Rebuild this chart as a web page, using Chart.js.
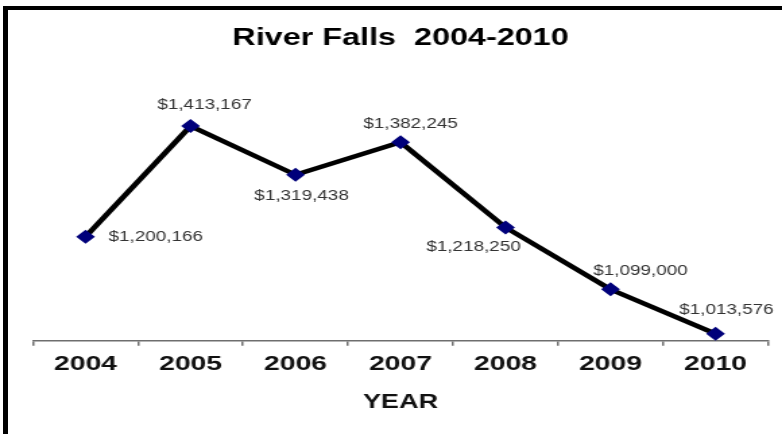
<!DOCTYPE html>
<html>
<head>
<meta charset="utf-8">
<script src="https://cdn.jsdelivr.net/npm/chart.js@4"></script>
<style>
  html, body { margin: 0; padding: 0; background: #fff; overflow: hidden; }
  #wrap { position: absolute; left: 0; top: 0; width: 580px; height: 434px;
          transform: scaleX(1.3483); transform-origin: 0 0; }
  #frame { position: absolute; left: 3px; top: 6px; right: -20px; bottom: -20px;
           border-left: 5px solid #000; border-top: 4px solid #000; }
</style>
</head>
<body>
<div id="wrap"><canvas id="chart" width="580" height="434"></canvas></div>
<div id="frame"></div>
<script>
const years = ['2004', '2005', '2006', '2007', '2008', '2009', '2010'];
const revenue = [1200166, 1413167, 1319438, 1382245, 1218250, 1099000, 1013576];
const chartTitle = 'River Falls  2004-2010';
const xTitle = 'YEAR';

const STRETCH = 1.3483;
const FONT = '"Liberation Sans", Arial, sans-serif';

// where each value label sits relative to its point (screen px)
const labelPos = [
  { dx: 23, dy: 0, align: 'left' },
  { dx: 14, dy: -21, align: 'center' },
  { dx: 6, dy: 21, align: 'center' },
  { dx: 10, dy: -18, align: 'center' },
  { dx: -32, dy: 20, align: 'center' },
  { dx: 30, dy: -18, align: 'center' },
  { dx: 11, dy: -24, align: 'center' }
];

const valueLabels = {
  id: 'valueLabels',
  afterDatasetsDraw(chart) {
    const ctx = chart.ctx;
    const meta = chart.getDatasetMeta(0);
    ctx.save();
    ctx.font = '14px ' + FONT;
    ctx.fillStyle = '#333';
    ctx.textBaseline = 'middle';
    meta.data.forEach((pt, i) => {
      const p = labelPos[i];
      ctx.textAlign = p.align;
      const txt = '$' + revenue[i].toLocaleString('en-US');
      ctx.fillText(txt, pt.x + p.dx / STRETCH, pt.y + p.dy);
    });
    ctx.restore();
  }
};

new Chart(document.getElementById('chart'), {
  type: 'line',
  data: {
    labels: years,
    datasets: [{
      data: revenue,
      borderColor: '#000',
      borderWidth: 4.5,
      pointStyle: 'rectRot',
      pointRadius: 7,
      pointBackgroundColor: '#00007a',
      pointBorderColor: '#00007a',
      pointBorderWidth: 0,
      tension: 0,
      fill: false,
      clip: false
    }]
  },
  options: {
    responsive: false,
    animation: false,
    layout: { padding: { left: 24.5, right: 10.4, top: 10, bottom: 16 } },
    plugins: {
      legend: { display: false },
      tooltip: { enabled: false },
      title: {
        display: true,
        text: chartTitle,
        color: '#000',
        font: { family: FONT, size: 24, weight: 'bold' },
        padding: { top: 14, bottom: 28.2 }
      }
    },
    scales: {
      x: {
        offset: true,
        grid: {
          offset: true,
          drawOnChartArea: false,
          tickLength: 5,
          color: '#6e6e6e',
          lineWidth: 1.5
        },
        border: { color: '#6e6e6e', width: 1.5 },
        ticks: {
          color: '#111',
          padding: 5.5,
          maxRotation: 0,
          autoSkip: false,
          font: { family: FONT, size: 21, weight: 'bold' }
        },
        title: {
          display: true,
          text: xTitle,
          color: '#111',
          font: { family: FONT, size: 20, weight: 'bold' },
          padding: { top: 8, bottom: 4 }
        }
      },
      y: {
        display: false,
        min: 1000000,
        max: 1500000
      }
    }
  },
  plugins: [valueLabels]
});
</script>
</body>
</html>
